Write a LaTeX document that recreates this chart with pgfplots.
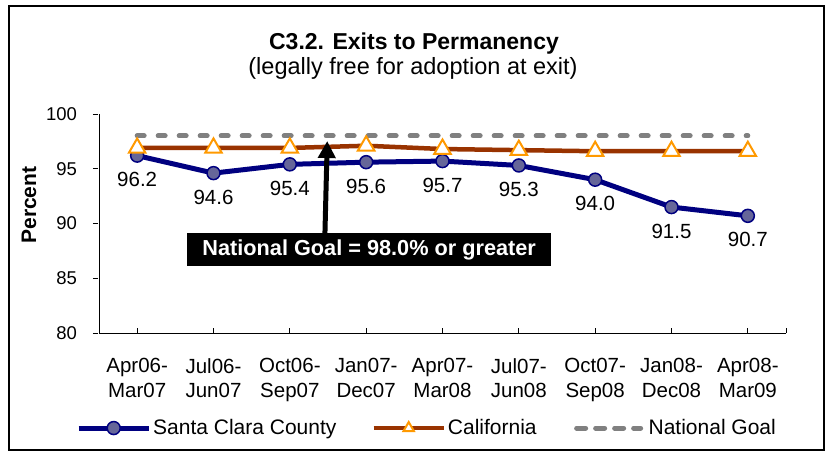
\documentclass[border=0pt]{standalone}
\usepackage{fontspec}
\setmainfont{Liberation Sans}
\usepackage{pgfplots}
\pgfplotsset{compat=1.18}
\usetikzlibrary{arrows.meta}
\definecolor{scnavy}{RGB}{0,0,128}
\definecolor{scfill}{RGB}{102,102,153}
\definecolor{cabrown}{RGB}{153,51,0}
\definecolor{caorange}{RGB}{255,153,0}
\definecolor{goalgray}{RGB}{128,128,128}
\newcommand{\fs}[1]{\fontsize{#1}{1.2\dimexpr#1\relax}\selectfont}
\pgfplotsset{
  legmark/.style={legend image code/.code={\draw[##1,mark repeat=2,mark phase=2] plot coordinates {(0bp,0bp) (35bp,0bp) (70bp,0bp)};}},
  legmarksmall/.style={legend image code/.code={\draw[##1,mark repeat=2,mark phase=2,mark size=6bp] plot coordinates {(0bp,0bp) (35bp,0bp) (70bp,0bp)};}},
  legline/.style={legend image code/.code={\draw[##1, dash pattern=on 9bp off 10bp] (2.5bp,0bp) -- (66.5bp,0bp); \path (0bp,0bp) (70bp,0bp);}},
}
\begin{document}
\begin{tikzpicture}
\useasboundingbox (0,0) rectangle (826bp,452bp);
\draw[line width=2.5bp] (9bp,2bp) rectangle (824bp,446bp);
\begin{axis}[
  at={(99bp,119bp)}, anchor=south west,
  scale only axis, width=687bp, height=219bp,
  xmin=-0.5, xmax=8.5, ymin=80, ymax=100,
  axis x line*=bottom, axis y line*=left,
  axis line style={-, line width=0.8bp, black},
  xtick={0,1,2,3,4,5,6,7,8},
  extra x ticks={8.5}, extra x tick labels={},
  xticklabels={{Apr06-\\Mar07},{Jul06-\\Jun07},{Oct06-\\Sep07},{Jan07-\\Dec07},{Apr07-\\Mar08},{Jul07-\\Jun08},{Oct07-\\Sep08},{Jan08-\\Dec08},{Apr08-\\Mar09}},
  ytick={80,85,90,95,100},
  tick align=inside, major tick length=5bp,
  tick style={line width=0.8bp, black},
  ytick style={xshift=-6bp},
  /pgf/number format/assume math mode=true,
  xticklabel style={align=center, font=\fontsize{20.5bp}{24.7bp}\selectfont, yshift=-21.9bp},
  yticklabel style={font=\fs{18.5bp}, xshift=-18.5bp},
  ylabel={Percent},
  ylabel style={at={(axis description cs:-0.102,0.584)}, anchor=center, font=\bfseries\fs{21bp}},
  legend style={draw=none, fill=none, at={(axis description cs:0.4775,-0.434)}, anchor=center,
    legend columns=3, font=\fs{21bp},
    /tikz/every odd column/.append style={column sep=0bp},
    /tikz/every even column/.append style={column sep=33bp}},
  clip=false,
]
\addplot[color=scnavy, line width=5bp, mark=*, mark size=6.5bp,
  mark options={fill=scfill, draw=scnavy, line width=1.5bp, solid},
  nodes near coords, point meta=y,
  nodes near coords style={anchor=center, yshift=-24bp, text=black, font=\fs{20.5bp},
    /pgf/number format/.cd, fixed, fixed zerofill, precision=1},
  legmark]
coordinates {(0,96.2) (1,94.6) (2,95.4) (3,95.6) (4,95.7) (5,95.3) (6,94.0) (7,91.5) (8,90.7)};
\addlegendentry{Santa Clara County}
\addplot[color=cabrown, line width=4.5bp, mark=triangle*, mark size=9.5bp,
  mark options={fill=white, draw=caorange, line width=2bp, solid},
  legmarksmall]
coordinates {(0,96.9) (1,96.9) (2,96.9) (3,97.1) (4,96.8) (5,96.7) (6,96.6) (7,96.6) (8,96.6)};
\addlegendentry{California}
\addplot[color=goalgray, line width=5bp, dash pattern=on 7bp off 14bp, line cap=round, no markers,
  legline]
coordinates {(0,98.0) (1,98.0) (2,98.0) (3,98.0) (4,98.0) (5,98.0) (6,98.0) (7,98.0) (8,98.0)};
\addlegendentry{National Goal}
\draw[-{Triangle[width=17bp,length=17bp]}, line width=5bp, black] (axis cs:2.46,89.13) -- (axis cs:2.49,97.53);
\node[fill=black, text=white, font=\bfseries\fs{21.7bp}, minimum width=364bp, minimum height=33bp, inner sep=0pt]
  at (axis cs:3.04,87.63) {National Goal = 98.0\% or greater};
\end{axis}
\node[anchor=base, font=\bfseries\fs{23bp}] at (414bp,402.5bp) {C3.2. Exits to Permanency};
\node[anchor=base, font=\fs{23.5bp}] at (413bp,377.5bp) {(legally free for adoption at exit)};
\end{tikzpicture}
\end{document}
